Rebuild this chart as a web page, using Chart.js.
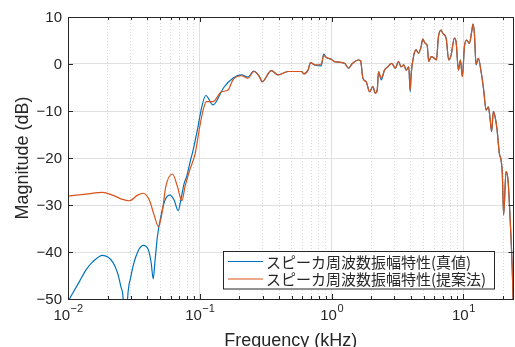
<!DOCTYPE html>
<html>
<head>
<meta charset="utf-8">
<script src="https://cdn.jsdelivr.net/npm/chart.js@4/dist/chart.umd.min.js"></script>
<style>
  body { margin: 0; background: #fff; }
</style>
</head>
<body>
<canvas id="freqChart" width="515" height="347"></canvas>
<script>
// frequencies in kHz, magnitudes in dB
const freqTrue = [0.0100, 0.0122, 0.0137, 0.0154, 0.0183, 0.0218, 0.0238, 0.0252, 0.0262, 0.0272,
  0.0283, 0.0300, 0.0327, 0.0371, 0.0408, 0.0428, 0.0443, 0.0458, 0.0477, 0.0506,
  0.0546, 0.0593, 0.0637, 0.0686, 0.0718, 0.0761, 0.0794, 0.0850, 0.0890, 0.0970,
  0.103, 0.111, 0.126, 0.152, 0.179, 0.207, 0.232, 0.257, 0.285, 0.2965,
  0.349, 0.392, 0.467, 0.590, 0.617, 0.662, 0.693, 0.743, 0.836, 0.870,
  0.912, 0.995, 1.054, 1.255, 1.345, 1.425, 1.601, 1.659, 1.727, 1.832,
  1.941, 2.056, 2.144, 2.220, 2.271, 2.380, 2.521, 2.670, 2.863, 3.039,
  3.218, 3.373, 3.529, 3.680, 3.851, 3.946, 4.016, 4.202, 4.382, 4.561,
  4.781, 4.917, 5.127, 5.309, 5.459, 5.693, 6.030, 6.244, 6.466, 6.778,
  6.970, 7.395, 7.738, 8.068, 8.546, 8.804, 9.165, 9.491, 9.826, 10.18,
  10.59, 11.10, 11.56, 11.84, 12.12, 12.48, 12.99, 13.62, 14.25, 14.86,
  15.47, 15.94, 16.38, 16.88, 17.39, 18.00, 18.74, 19.30, 19.74, 20.20,
  21.06, 21.81, 22.59, 23.39, 23.80, 24.0];
const magTrue = [-50.5, -46.3, -43.8, -42.1, -40.7, -42.1, -44.5, -47.4, -49.9, -62,
  -50.0, -45.2, -41.0, -38.6, -39.6, -42.4, -45.7, -41.7, -36.7, -32.5,
  -28.9, -27.9, -28.9, -31.2, -28.9, -25.4, -24.0, -20.5, -18.3, -13.3,
  -9.4, -6.7, -8.7, -5.0, -3.0, -2.3, -2.8, -1.5, -2.8, -3.8,
  -1.4, -2.3, -1.6, -1.6, -2.1, -1.3, 0.3, -0.2, -0.4, 2.1,
  1.4, 1.0, 0.5, 0.15, -0.9, 0.0, 0.85, 0.7, -3.0, -3.8,
  -5.9, -4.8, -6.2, -5.5, -1.6, -3.4, -1.3, -0.6, 0.15, -0.9,
  0.5, -0.6, -0.2, -1.3, -0.6, -5.9, -2.1, 1.9, 3.0, 2.3,
  3.7, 5.3, 4.4, 4.0, 0.5, 1.55, 1.2, 0.85, 5.8, 7.2,
  6.5, 5.5, 0.85, 1.9, 5.5, 4.7, -1.3, 0.85, -2.7, 3.7,
  5.1, 4.4, 6.9, 8.5, 6.5, -0.2, 1.2, -1.6, -5.5, -9.8,
  -9.1, -11.6, -14.4, -10.1, -11.2, -13.9, -19.0, -20.4, -23.3, -32.1,
  -22.9, -24.7, -32.5, -42.4, -50, -58];

const freqProp = [0.0100, 0.0137, 0.0183, 0.0218, 0.0259, 0.0292, 0.0337, 0.0371, 0.0413, 0.0450,
  0.0486, 0.0521, 0.0552, 0.0621, 0.0677, 0.0731, 0.0772, 0.0838, 0.0920, 0.100,
  0.106, 0.112, 0.126, 0.146, 0.163, 0.179, 0.207, 0.232, 0.257, 0.285,
  0.2965, 0.349, 0.392, 0.467, 0.590, 0.617, 0.662, 0.693, 0.743, 0.836,
  0.870, 0.912, 0.995, 1.054, 1.255, 1.345, 1.425, 1.601, 1.659, 1.727,
  1.832, 1.941, 2.056, 2.144, 2.220, 2.271, 2.380, 2.521, 2.670, 2.863,
  3.039, 3.218, 3.373, 3.529, 3.680, 3.851, 3.946, 4.016, 4.202, 4.382,
  4.561, 4.781, 4.917, 5.127, 5.309, 5.459, 5.693, 6.030, 6.244, 6.466,
  6.778, 6.970, 7.395, 7.738, 8.068, 8.546, 8.804, 9.165, 9.491, 9.826,
  10.18, 10.59, 11.10, 11.56, 11.84, 12.12, 12.48, 12.99, 13.62, 14.25,
  14.86, 15.47, 15.94, 16.38, 16.88, 17.39, 18.00, 18.74, 19.30, 19.74,
  20.20, 21.06, 21.81, 22.59, 23.39, 23.80, 24.0];
const magProp = [-28.1, -27.7, -27.3, -27.9, -28.8, -29.1, -27.9, -27.5, -28.9, -32.1,
  -34.6, -31.1, -26.1, -23.4, -26.1, -29.1, -26.1, -22.6, -19.2, -13.3,
  -9.8, -8.0, -8.0, -5.9, -5.6, -3.3, -2.5, -3.0, -1.6, -2.8,
  -3.8, -1.4, -2.3, -1.6, -1.6, -2.1, -1.3, 0.3, -0.2, 0.0,
  1.8, 1.4, 1.0, 0.5, 0.15, -0.9, 0.0, 0.85, 0.7, -3.0,
  -3.8, -5.9, -4.8, -6.2, -5.5, -1.6, -3.0, -1.3, -0.6, 0.15,
  -0.9, 0.5, -0.6, -0.2, -1.3, -0.6, -5.6, -2.1, 1.9, 3.0,
  2.3, 3.7, 5.3, 4.4, 4.0, 0.5, 1.55, 1.2, 0.85, 5.8,
  7.2, 6.5, 5.5, 0.85, 1.9, 5.5, 4.7, -1.3, 0.85, -2.7,
  3.7, 5.1, 4.4, 6.9, 8.5, 6.5, 0.0, 1.2, -1.6, -5.5,
  -9.8, -9.1, -11.6, -14.4, -10.1, -11.2, -13.9, -19.0, -20.4, -23.3,
  -32.1, -22.9, -24.7, -32.5, -42.4, -50, -58];

const seriesLabels = ['スピーカ周波数振幅特性(真値)', 'スピーカ周波数振幅特性(提案法)'];
const seriesColors = ['#0072BD', '#D95319'];
const xMinorTicks = [0.01, 0.02, 0.03, 0.04, 0.05, 0.06, 0.07, 0.08, 0.09,
  0.1, 0.2, 0.3, 0.4, 0.5, 0.6, 0.7, 0.8, 0.9,
  1, 2, 3, 4, 5, 6, 7, 8, 9,
  10, 20];
const yTickValues = [-50, -40, -30, -20, -10, 0, 10];
const xLabel = 'Frequency (kHz)';
const yLabel = 'Magnitude (dB)';

const axisColor = '#262626';
const latin = '"Liberation Sans", Arial, sans-serif';

function isDecade(v) {
  const l = Math.log10(v);
  return Math.abs(l - Math.round(l)) < 1e-6;
}

function toPoints(xs, ys) {
  return xs.map((x, i) => ({ x: x, y: ys[i] }));
}

// axes box, inward ticks, tick labels, titles and the legend box
const matlabAxes = {
  id: 'matlabAxes',
  afterDraw(chart) {
    const ctx = chart.ctx;
    const area = chart.chartArea;
    const xs = chart.scales.x;
    const ys = chart.scales.y;
    ctx.save();
    ctx.strokeStyle = axisColor;
    ctx.lineWidth = 1;

    // ticks
    ctx.beginPath();
    xs.ticks.forEach(t => {
      const px = Math.round(xs.getPixelForValue(t.value)) + 0.5;
      const len = isDecade(t.value) ? 5 : 3;
      ctx.moveTo(px, area.bottom); ctx.lineTo(px, area.bottom - len);
      ctx.moveTo(px, area.top); ctx.lineTo(px, area.top + len);
    });
    ys.ticks.forEach(t => {
      const py = Math.round(ys.getPixelForValue(t.value)) + 0.5;
      ctx.moveTo(area.left, py); ctx.lineTo(area.left + 5, py);
      ctx.moveTo(area.right, py); ctx.lineTo(area.right - 5, py);
    });
    ctx.stroke();

    // box
    ctx.strokeRect(Math.round(area.left) + 0.5, Math.round(area.top) + 0.5,
      Math.round(area.right - area.left) - 1, Math.round(area.bottom - area.top));

    ctx.fillStyle = axisColor;
    // y tick labels
    ctx.font = '15px ' + latin;
    ctx.textAlign = 'right';
    ctx.textBaseline = 'middle';
    ys.ticks.forEach(t => {
      const txt = t.value < 0 ? '\u2212' + Math.abs(t.value) : String(t.value);
      ctx.fillText(txt, area.left - 6, ys.getPixelForValue(t.value) + 1);
    });

    // x tick labels 10^n
    ctx.textAlign = 'left';
    ctx.textBaseline = 'alphabetic';
    xs.ticks.filter(t => isDecade(t.value)).forEach(t => {
      const n = Math.round(Math.log10(t.value));
      const exp = n < 0 ? '\u2212' + Math.abs(n) : String(n);
      ctx.font = '15px ' + latin;
      const wBase = ctx.measureText('10').width;
      ctx.font = '11px ' + latin;
      const wExp = ctx.measureText(exp).width;
      const x0 = xs.getPixelForValue(t.value) - (wBase + wExp) / 2;
      ctx.font = '15px ' + latin;
      ctx.fillText('10', x0, 320);
      ctx.font = '11px ' + latin;
      ctx.fillText(exp, x0 + wBase + 0.5, 312);
    });

    // axis titles
    ctx.font = '18px ' + latin;
    ctx.textAlign = 'center';
    ctx.fillText(xLabel, (area.left + area.right) / 2, 346);
    ctx.save();
    ctx.translate(28, (area.top + area.bottom) / 2);
    ctx.rotate(-Math.PI / 2);
    ctx.fillText(yLabel, 0, 0);
    ctx.restore();

    // legend
    const box = { left: 223.5, top: 251.5, width: 271, height: 37.5 };
    ctx.fillStyle = '#fff';
    ctx.fillRect(box.left, box.top, box.width, box.height);
    ctx.strokeStyle = axisColor;
    ctx.strokeRect(box.left, box.top, box.width, box.height);
    const rows = [261.5, 279];
    ctx.font = '15px "Noto Sans CJK JP", sans-serif';
    ctx.textAlign = 'left';
    ctx.textBaseline = 'middle';
    seriesLabels.forEach((label, i) => {
      ctx.strokeStyle = seriesColors[i];
      ctx.lineWidth = 1.2;
      ctx.beginPath();
      ctx.moveTo(228, rows[i]);
      ctx.lineTo(263, rows[i]);
      ctx.stroke();
      ctx.fillStyle = axisColor;
      ctx.fillText(label, 266, rows[i] + 0.5);
    });
    ctx.restore();
  }
};

const chart = new Chart(document.getElementById('freqChart').getContext('2d'), {
  type: 'line',
  data: {
    datasets: [{
      label: seriesLabels[0],
      data: toPoints(freqTrue, magTrue),
      borderColor: seriesColors[0],
      order: 1
    }, {
      label: seriesLabels[1],
      data: toPoints(freqProp, magProp),
      borderColor: seriesColors[1],
      order: 0
    }]
  },
  options: {
    responsive: false,
    animation: false,
    devicePixelRatio: 1,
    layout: { padding: { left: 68, top: 17, right: 1.5, bottom: 48 } },
    elements: {
      point: { radius: 0 },
      line: { borderWidth: 1.2, cubicInterpolationMode: 'monotone', fill: false }
    },
    plugins: {
      legend: { display: false },
      tooltip: { enabled: false }
    },
    scales: {
      x: {
        type: 'logarithmic',
        min: 0.01,
        max: 24,
        afterBuildTicks: scale => {
          scale.ticks = xMinorTicks.map(v => ({ value: v, major: isDecade(v) }));
        },
        ticks: { display: false },
        grid: {
          drawTicks: false,
          lineWidth: 1,
          color: c => (c.tick && isDecade(c.tick.value)) ? '#e0e0e0' : '#d6d6d6'
        },
        border: {
          display: false,
          dash: c => (c.tick && isDecade(c.tick.value)) ? [] : [1, 2]
        }
      },
      y: {
        min: -50,
        max: 10,
        afterBuildTicks: scale => {
          scale.ticks = yTickValues.map(v => ({ value: v }));
        },
        ticks: { display: false },
        grid: { drawTicks: false, lineWidth: 1, color: '#e0e0e0' },
        border: { display: false }
      }
    }
  },
  plugins: [matlabAxes]
});
</script>
</body>
</html>
